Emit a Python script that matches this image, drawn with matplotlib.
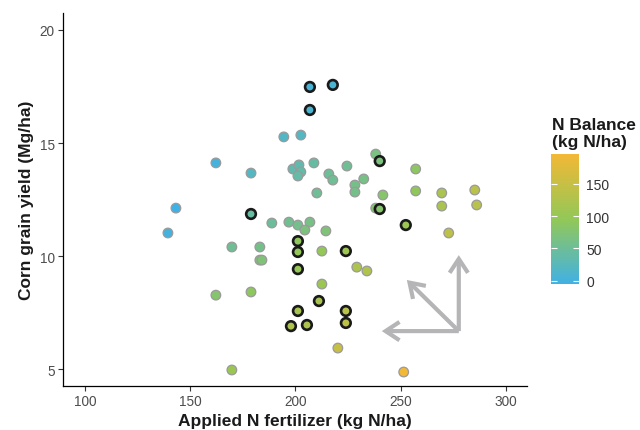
import matplotlib
matplotlib.use("Agg")
import matplotlib.pyplot as plt
import numpy as np
from matplotlib.colors import LinearSegmentedColormap, Normalize
from matplotlib.patches import FancyArrowPatch

plt.rcParams["font.family"] = ["Liberation Sans", "DejaVu Sans"]

# applied N (kg N/ha), grain yield (Mg/ha), N balance (kg N/ha), highlighted plots
n_applied = [206.9, 217.8, 206.9, 194.5, 202.6, 162.2, 178.9, 198.8, 201.7, 202.6,
             201.2, 208.8, 215.9, 217.8, 224.5, 232.5, 228.3, 228.3, 210.2, 238.2,
             240.1, 241.6, 257.2, 257.2, 269.6, 285.3, 269.6, 286.2, 238.2, 240.1,
             252.5, 272.9, 143.2, 139.4, 178.9, 188.8, 196.9, 201.2, 206.9, 204.5,
             214.5, 201.2, 201.2, 201.2, 212.6, 224.0, 169.8, 183.1, 183.1, 184.1,
             229.2, 234.0, 212.6, 162.2, 178.9, 211.2, 201.2, 197.9, 205.5, 224.0,
             224.0, 220.2, 169.8, 251.5]
grain_yield = [17.48, 17.57, 16.46, 15.27, 15.35, 14.12, 13.67, 13.85, 14.03, 13.72,
               13.54, 14.12, 13.63, 13.36, 13.98, 13.41, 13.14, 12.83, 12.79, 14.51,
               14.20, 12.70, 13.85, 12.88, 12.79, 12.92, 12.21, 12.26, 12.12, 12.08,
               11.37, 11.02, 12.12, 11.02, 11.86, 11.46, 11.50, 11.37, 11.50, 11.15,
               11.11, 10.66, 10.18, 9.42, 10.22, 10.22, 10.40, 10.40, 9.82, 9.82,
               9.51, 9.34, 8.76, 8.27, 8.41, 8.01, 7.57, 6.90, 6.95, 7.57,
               7.04, 5.93, 4.96, 4.87]
n_balance = [5, 8, 10, 18, 20, 0, 20, 35, 35, 38,
             40, 42, 50, 52, 52, 62, 60, 60, 52, 65,
             68, 82, 88, 92, 120, 135, 120, 135, 78, 80,
             105, 140, -5, 0, 42, 48, 55, 58, 62, 68,
             72, 92, 95, 100, 95, 108, 52, 60, 72, 72,
             122, 125, 105, 80, 90, 118, 118, 122, 122, 135,
             140, 150, 105, 196]
highlight = [1, 1, 1, 0, 0, 0, 0, 0, 0, 0,
             0, 0, 0, 0, 0, 0, 0, 0, 0, 0,
             1, 0, 0, 0, 0, 0, 0, 0, 0, 1,
             1, 0, 0, 0, 1, 0, 0, 0, 0, 0,
             0, 1, 1, 1, 0, 1, 0, 0, 0, 0,
             0, 0, 0, 0, 0, 1, 1, 1, 1, 1,
             1, 0, 0, 0]

# arrow glyph: common origin and three tips
arrow_origin = (277.7, 6.68)
arrow_tips = [(241.1, 6.68), (253.0, 8.94), (277.7, 10.04)]

x = np.array(n_applied)
y = np.array(grain_yield)
nb = np.array(n_balance)
hl = np.array(highlight, dtype=bool)

cmap = LinearSegmentedColormap.from_list("nbal", ["#40B1E4", "#93C857", "#F2B836"])
norm = Normalize(vmin=nb.min(), vmax=nb.max())

fig = plt.figure(figsize=(6.4, 4.31), dpi=100)
ax = fig.add_axes([0.0984, 0.102, 0.7246, 0.8655])

sc = ax.scatter(x[~hl], y[~hl], c=nb[~hl], cmap=cmap, norm=norm, s=48,
                edgecolors="#9A9A9A", linewidths=0.9, zorder=3)
ax.scatter(x[hl], y[hl], c=nb[hl], cmap=cmap, norm=norm, s=48,
           edgecolors="#1A1A1A", linewidths=1.9, zorder=4)

for tip in arrow_tips:
    arr = FancyArrowPatch(arrow_origin, tip, arrowstyle="->,head_length=0.5,head_width=0.33",
                          mutation_scale=20, color="#B5B5B7", lw=3.0,
                          shrinkA=0, shrinkB=0, joinstyle="miter", capstyle="butt",
                          zorder=2)
    ax.add_patch(arr)

ax.set_xlim(89.5, 310)
ax.set_ylim(4.25, 20.75)
ax.set_xticks([100, 150, 200, 250, 300])
ax.set_yticks([5, 10, 15, 20])
for side in ["top", "right"]:
    ax.spines[side].set_visible(False)
for side in ["left", "bottom"]:
    ax.spines[side].set_linewidth(0.9)
ax.tick_params(axis="both", length=3.5, width=0.8, color="#333333",
               labelcolor="#4D4D4D", labelsize=9.8, pad=2.5)
ax.set_xlabel("Applied N fertilizer (kg N/ha)", fontsize=12.5, fontweight="bold",
              color="#1A1A1A", labelpad=3)
ax.set_ylabel("Corn grain yield (Mg/ha)", fontsize=12.5, fontweight="bold",
              color="#1A1A1A", labelpad=4)

cax = fig.add_axes([0.861, 0.339, 0.044, 0.301])
cb = fig.colorbar(sc, cax=cax)
cb.outline.set_visible(False)
cb.set_ticks([0, 50, 100, 150])
cax.tick_params(direction="in", color="white", length=4, width=0.8,
                left=True, right=True, labelsize=10, labelcolor="#333333", pad=5)
fig.text(0.862, 0.652, "N Balance\n(kg N/ha)", fontsize=12.5, fontweight="bold",
         color="#1A1A1A", ha="left", va="bottom", linespacing=1.15)

fig.savefig("out.png", dpi=100)
